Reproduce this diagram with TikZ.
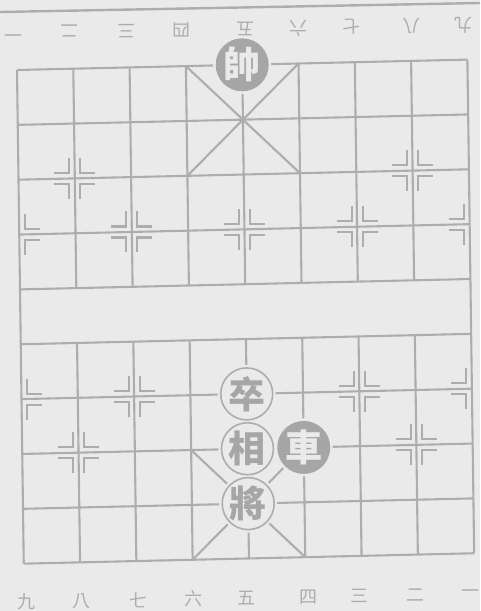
\documentclass[tikz,border=0pt]{standalone}
\usepackage{fontspec}
\newfontfamily\cjk{Noto Sans CJK TC}
\definecolor{paper}{HTML}{EAEAEA}
\definecolor{ink}{HTML}{ADADAD}
\definecolor{piecefill}{HTML}{A6A6A6}
\newcommand\qmark[4]{%
  \draw[gridline] (#1,#2) ++({(#3)*5.5pt},{(#4)*20.5pt}) -- ++(0pt,{(#4)*(-15pt)}) -- ++({(#3)*15pt},0pt);}
\begin{document}
\begin{tikzpicture}[x=1pt,y=-1pt,
  gridline/.style={draw=ink, line width=2.1pt},
  numlabel/.style={text=ink, font=\cjk\fontsize{18}{18}\selectfont, inner sep=0pt},
  toplabel/.style={numlabel, rotate=180},
  filledpiece/.style={circle, fill=piecefill, text=paper, minimum size=53pt, inner sep=0pt, font=\cjk\bfseries\fontsize{37}{37}\selectfont},
  openpiece/.style={circle, draw=ink, line width=1.6pt, fill=paper, text=piecefill, minimum size=52pt, inner sep=0pt, font=\cjk\bfseries\fontsize{37}{37}\selectfont}]
\fill[paper] (0,0) rectangle (480,611);
\useasboundingbox (0,0) rectangle (480,611);
\draw[ink, line width=2.4pt] (0,12) -- (480,3);
% column labels
\node[toplabel] (t1) at (14,32) {一};
\node[toplabel] (t2) at (69,31) {二};
\node[toplabel] (t3) at (126,31) {三};
\node[toplabel] (t4) at (181,30) {四};
\node[toplabel] (t5) at (245,29) {五};
\node[toplabel] (t6) at (298,28) {六};
\node[toplabel] (t7) at (351,27) {七};
\node[toplabel] (t8) at (411,26) {八};
\node[toplabel] (t9) at (463,25) {九};
\node[numlabel] (b9) at (26,602) {九};
\node[numlabel] (b8) at (81,601) {八};
\node[numlabel] (b7) at (138,600) {七};
\node[numlabel] (b6) at (193,599) {六};
\node[numlabel] (b5) at (246,598) {五};
\node[numlabel] (b4) at (308,597) {四};
\node[numlabel] (b3) at (359,596) {三};
\node[numlabel] (b2) at (415,595) {二};
\node[numlabel] (b1) at (470,594) {一};
\begin{scope}[shift={(17pt,-70pt)}, x={(56.3pt,1.3pt)}, y={(0.75pt,-54.85pt)}]
  \foreach \r in {0,...,9} \draw[gridline] (0,\r) -- (8,\r);
  \draw[gridline] (0,0) -- (0,9);
  \draw[gridline] (8,0) -- (8,9);
  \foreach \c in {1,...,7} {
    \draw[gridline] (\c,0) -- (\c,4);
    \draw[gridline] (\c,5) -- (\c,9);
  }
  \draw[gridline] (3,0) -- (5,2);
  \draw[gridline] (5,0) -- (3,2);
  \draw[gridline] (3,7) -- (5,9);
  \draw[gridline] (5,7) -- (3,9);
  \foreach \c/\r in {1/2,7/2,1/7,7/7,2/3,4/3,6/3,2/6,6/6}
    \foreach \sx in {-1,1}
      \foreach \sy in {-1,1} {\qmark{\c}{\r}{\sx}{\sy}}
  \foreach \r in {3,6}
    \foreach \sy in {-1,1} {\qmark{0}{\r}{1}{\sy}\qmark{8}{\r}{-1}{\sy}}
  % halos
  \foreach \c/\r in {4/0,4/6,4/7,4/8,5/7} \fill[paper] (\c,\r) circle (29pt);
  \node[filledpiece] (shuai) at (4,0) {帥};
  \node[openpiece] (zu) at (4,6) {卒};
  \node[openpiece] (xiang) at (4,7) {相};
  \node[openpiece] (jiang) at (4,8) {將};
  \node[filledpiece] (ju) at (5,7) {車};
\end{scope}
\end{tikzpicture}
\end{document}
